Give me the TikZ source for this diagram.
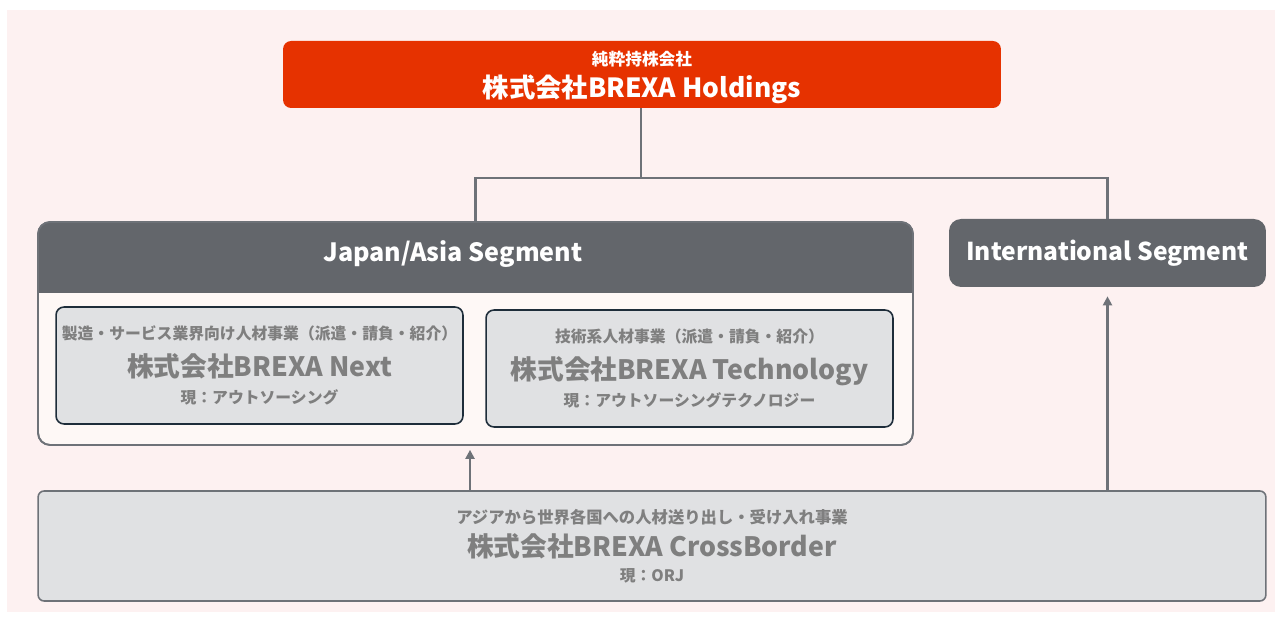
\documentclass[tikz,border=0pt]{standalone}
\usepackage{fontspec}
\setmainfont{Noto Sans CJK JP}
\usetikzlibrary{arrows.meta}

\definecolor{bgpink}{HTML}{FDF1F1}
\definecolor{brexared}{HTML}{E63200}
\definecolor{segdark}{HTML}{63666B}
\definecolor{boxgray}{HTML}{E0E1E3}
\definecolor{boxedge}{HTML}{1E2D3A}
\definecolor{linegray}{HTML}{6E7278}
\definecolor{textgray}{HTML}{7F7F7F}
\definecolor{paleback}{HTML}{FEF8F6}

\tikzstyle{holding} = [rectangle, fill=brexared, text=white, align=center, rounded corners=0.16cm, minimum width=14.36cm, minimum height=1.34cm]
\tikzstyle{segment} = [rectangle, fill=segdark, text=white, font=\fontsize{14}{17}\selectfont\bfseries, rounded corners=0.24cm]
\tikzstyle{company} = [rectangle, draw=boxedge, line width=0.9pt, fill=boxgray, text=textgray, align=center, rounded corners=0.16cm, minimum width=8.14cm, minimum height=2.34cm, inner sep=2pt]
\tikzstyle{line} = [draw=linegray, line width=1.2pt]
\tikzstyle{arrow} = [line, -{Triangle[length=0.18cm, width=0.18cm]}]

\newcommand{\smalltxt}{\fontsize{9}{11}\selectfont\bfseries}
\newcommand{\bigtxt}{\fontsize{15.2}{18}\selectfont\bfseries}

\begin{document}
\begin{tikzpicture}[x=0.02cm, y=-0.02cm]

  \useasboundingbox (0,0) rectangle (1282,617);
  \fill[white] (0,0) rectangle (1282,617);
  \fill[bgpink] (7,10) rectangle (1275,612);

  \node[holding] (holdings) at (642,74.5) {};
  \node[text=white, align=center] (holdtext) at (642,77.5) {{\fontsize{9.5}{11}\selectfont\bfseries 純粋持株会社}\\[3pt]{\fontsize{15}{18}\selectfont\bfseries 株式会社BREXA Holdings}};

  % Japan/Asia segment frame with header
  \node[rectangle, draw=linegray, line width=1pt, fill=paleback, rounded corners=0.24cm, minimum width=17.5cm, minimum height=4.46cm] (japan) at (475.5,333.5) {};
  \node[segment, minimum width=17.5cm, minimum height=1.42cm] (japanhead) at (475.5,257.5) {};
  \fill[segdark] (38,280) rectangle (913,293);
  \node[text=white, font=\fontsize{14.3}{17}\selectfont\bfseries] (japanlabel) at (453,254) {Japan/Asia Segment};
  \draw[draw=linegray, line width=1pt, rounded corners=0.24cm] (38,222) rectangle (913,445);

  \node[company] (next) at (259.5,365.5) {{\smalltxt 製造・サービス業界向け人材事業（派遣・請負・紹介）}\\[6pt]{\bigtxt 株式会社BREXA Next}\\[3pt]{\smalltxt 現：アウトソーシング}};
  \node[company] (tech) at (689.5,368.5) {{\smalltxt 技術系人材事業（派遣・請負・紹介）}\\[6pt]{\bigtxt 株式会社BREXA Technology}\\[3pt]{\smalltxt 現：アウトソーシングテクノロジー}};

  \node[segment, minimum width=6.34cm, minimum height=1.36cm] (intl) at (1107.5,253) {International Segment};

  \node[company, draw=linegray, rounded corners=0.12cm, minimum width=24.56cm, minimum height=2.2cm] (cross) at (652,546) {{\fontsize{9.3}{11}\selectfont\bfseries アジアから世界各国への人材送り出し・受け入れ事業}\\[4pt]{\bigtxt 株式会社BREXA CrossBorder}\\[2pt]{\smalltxt 現：ORJ}};

  \coordinate (split) at (641,178);

  \path[line] (holdings.south -| split) -- (split);
  \path[line] (japan.north) |- (split) -| (intl.north);
  \path[arrow] ([xshift=-0.11cm]cross.north -| japan.south) -- ([xshift=-0.11cm,yshift=-0.08cm]japan.south);
  \path[arrow] (cross.north -| intl.south) -- ([yshift=-0.18cm]intl.south);

\end{tikzpicture}
\end{document}
